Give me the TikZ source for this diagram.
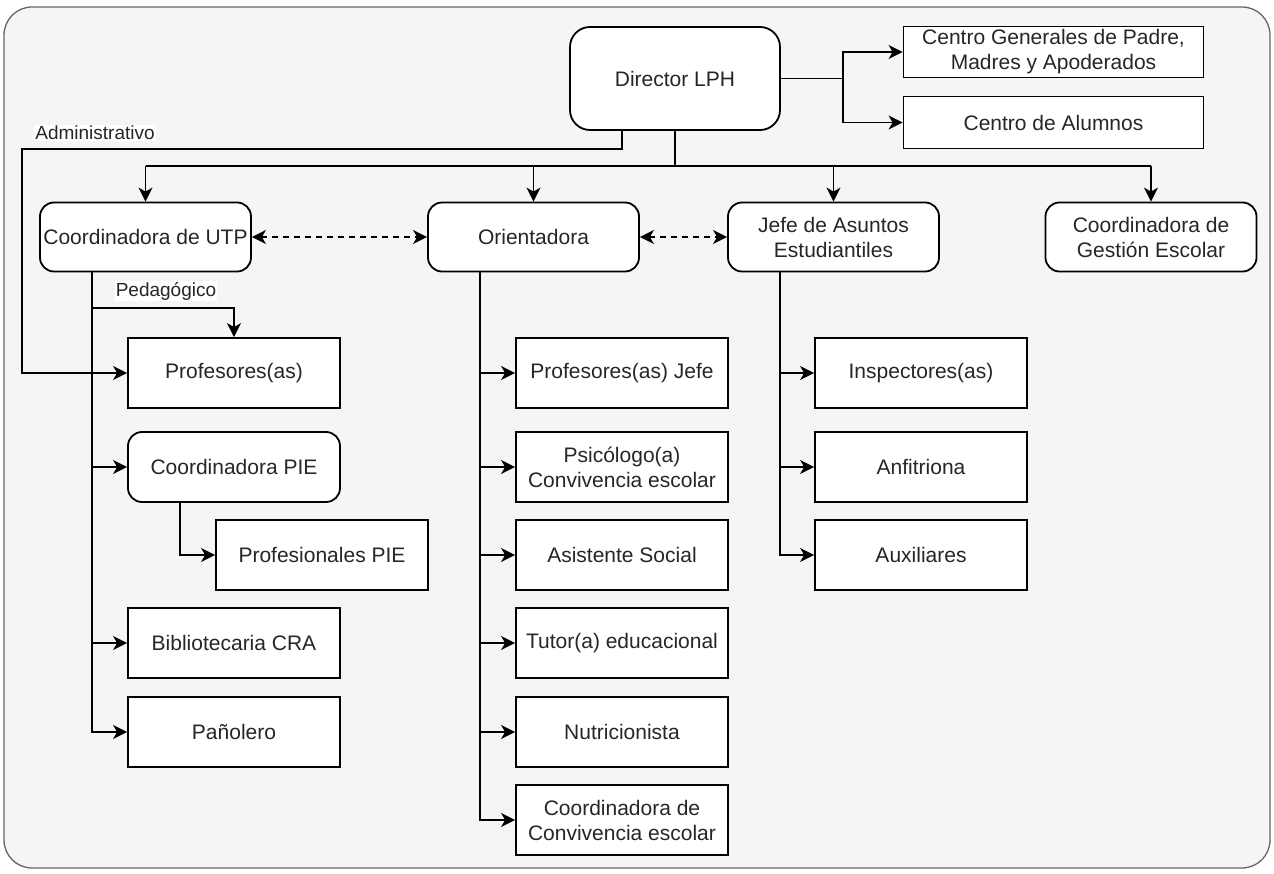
\documentclass[tikz,border=0pt]{standalone}
\usepackage{fontspec}
\setmainfont{Liberation Sans}
\usetikzlibrary{arrows.meta,calc}
\definecolor{bgfill}{HTML}{F5F5F5}
\definecolor{bgline}{HTML}{666666}
\definecolor{txt}{HTML}{262626}
\begin{document}
\begin{tikzpicture}[x=1pt,y=-1pt,
  base/.style={draw=black,fill=white,line width=1.8pt,text=txt,align=center,
    font=\fontsize{21}{25}\selectfont,inner sep=2pt,minimum width=212pt,minimum height=70pt},
  sqbox/.style={base},
  rbox/.style={base,rounded corners=14pt},
  conn/.style={line width=1.8pt,draw=black},
  tip/.style={},
  arr/.style={conn,-{Stealth[length=14pt,width=14pt,inset=4pt]}},
  darr/.style={conn,dash pattern=on 6pt off 5pt,{Stealth[length=14pt,width=14pt,inset=4pt]}-{Stealth[length=14pt,width=14pt,inset=4pt]}},
  lbl/.style={fill=white,text=txt,font=\fontsize{19}{22}\selectfont,inner sep=1pt}
]
\useasboundingbox (0,0) rectangle (1274,874);
\draw[fill=bgfill,draw=bgline,line width=1.3pt,rounded corners=28pt] (4,7) rectangle (1270,868);

% top
\node[rbox,minimum width=210pt,minimum height=103pt,rounded corners=20pt] (dir) at (675,78.5) {Director LPH};
\node[sqbox,minimum width=300pt,minimum height=51pt] (cgp) at (1053.5,52) {Centro Generales de Padre,\\Madres y Apoderados};
\node[sqbox,minimum width=300pt,minimum height=52pt] (cal) at (1053.5,122.5) {Centro de Alumnos};

% second level
\node[rbox,minimum width=211pt,minimum height=69pt] (utp) at (145.5,237) {Coordinadora de UTP};
\node[rbox,minimum width=211pt,minimum height=69pt] (ori) at (533.5,237) {Orientadora};
\node[rbox,minimum width=211pt,minimum height=69pt] (jefe) at (833.5,237) {Jefe de Asuntos\\Estudiantiles};
\node[rbox,minimum width=211pt,minimum height=69pt] (cge) at (1151,237) {Coordinadora de\\Gestión Escolar};

% UTP branch
\node[sqbox] (prof) at (234,373) {Profesores(as)};
\node[rbox] (pie) at (234,467) {Coordinadora PIE};
\node[sqbox] (ppie) at (322,555) {Profesionales PIE};
\node[sqbox] (bib) at (234,643) {Bibliotecaria CRA};
\node[sqbox] (pan) at (234,732) {Pañolero};

% Orientadora branch
\node[sqbox] (pj) at (622,373) {Profesores(as) Jefe};
\node[sqbox] (psi) at (622,467) {Psicólogo(a)\\Convivencia escolar};
\node[sqbox] (asi) at (622,555) {Asistente Social};
\node[sqbox] (tut) at (622,643) {Tutor(a) educacional};
\node[sqbox] (nut) at (622,732) {Nutricionista};
\node[sqbox] (ccv) at (622,820) {Coordinadora de\\Convivencia escolar};

% Jefe branch
\node[sqbox] (ins) at (921,373) {Inspectores(as)};
\node[sqbox] (anf) at (921,467) {Anfitriona};
\node[sqbox] (aux) at (921,555) {Auxiliares};

% coordinates
\coordinate (jct) at (843,78.5);
\coordinate (bus) at (675,166);
\coordinate (adm1) at ($(dir.south)+(-53,0)$);
\coordinate (adm2) at (22,149);
\coordinate (utpx) at ($(utp.south west)+(53,0)$);
\coordinate (ped) at (93,308);
\coordinate (piex) at ($(pie.south west)+(53,0)$);
\coordinate (orix) at ($(ori.south west)+(53,0)$);
\coordinate (jefx) at ($(jefe.south west)+(53,0)$);

% Director to centros
\draw[conn] (dir.east) -- (jct);
\draw[arr] (jct) |- (cgp.west);
\draw[arr] (jct) |- (cal.west);

% Director to second level
\draw[conn] (dir.south) -- (bus);
\draw[conn] (utp.north |- bus) -- (cge.north |- bus);
\draw[arr] (utp.north |- bus) -- (utp.north);
\draw[arr] (ori.north |- bus) -- (ori.north);
\draw[arr] (jefe.north |- bus) -- (jefe.north);
\draw[arr] (cge.north |- bus) -- (cge.north);

% dashed
\draw[darr] (utp.east) -- (ori.west);
\draw[darr] (ori.east) -- (jefe.west);

% Administrativo
\draw[arr] (adm1) |- (adm2) |- (prof.west);
\node[lbl] (ladm) at (95,133) {Administrativo};

% UTP branch
\draw[conn] (utpx) -- (utpx |- pan.west);
\draw[arr] (ped) -| (prof.north);
\node[lbl] (lped) at (166,291) {Pedagógico};
\draw[arr] (utpx) |- (pie.west);
\draw[arr] (utpx) |- (bib.west);
\draw[arr] (utpx) |- (pan.west);
\draw[arr] (piex) |- (ppie.west);

% Orientadora branch
\draw[arr] (orix) |- (pj.west);
\draw[arr] (orix) |- (psi.west);
\draw[arr] (orix) |- (asi.west);
\draw[arr] (orix) |- (tut.west);
\draw[arr] (orix) |- (nut.west);
\draw[arr] (orix) |- (ccv.west);

% Jefe branch
\draw[arr] (jefx) |- (ins.west);
\draw[arr] (jefx) |- (anf.west);
\draw[arr] (jefx) |- (aux.west);
\end{tikzpicture}
\end{document}
